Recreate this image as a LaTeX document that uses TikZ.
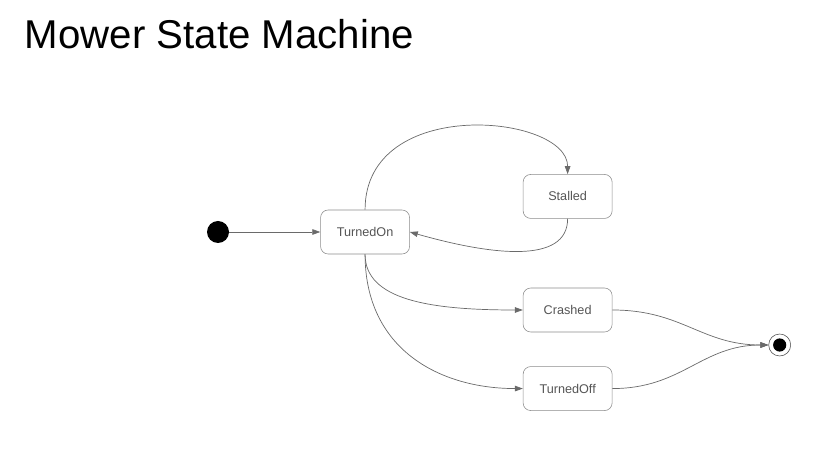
\documentclass[tikz,border=0pt]{standalone}
\usepackage{fontspec}
\setmainfont{Liberation Sans}
\usepackage{xcolor}
\usetikzlibrary{positioning, arrows.meta}
\definecolor{linegray}{HTML}{6A6A6A}
\definecolor{boxgray}{HTML}{8C8C8C}
\definecolor{textgray}{HTML}{555555}
\tikzstyle{state} = [rectangle, 
rounded corners=0.19cm, 
minimum width=2.225cm, 
minimum height=1.1cm, 
text centered, 
draw=boxgray, 
fill=white,
text=textgray,
font=\fontsize{9}{10}\selectfont]
\tikzstyle{startdot} = [circle, fill=black, minimum size=0.55cm, inner sep=0pt]
\tikzstyle{enddot} = [circle, draw=black!70, line width=0.4pt, fill=white, minimum size=0.55cm, inner sep=0pt]
\tikzstyle{arrow} = [linegray, line width=0.5pt, ->, >={Triangle[length=2mm, width=1.4mm]}]

\begin{document}
\begin{tikzpicture}
  \useasboundingbox (0,0) rectangle (20.325,-11.3);

  \node (title) [anchor=base west, font=\fontsize{28.6}{34}\selectfont] at (0.5,-1.22) {Mower State Machine};

  \node (start) [startdot] at (5.45,-5.8) {};
  \node (turnedon) [state, right=2.275cm of start] {TurnedOn};
  \node (crashed) [state, right=2.825cm of turnedon, yshift=-1.95cm] {Crashed};
  \node (stalled) [state, above=1.725cm of crashed] {Stalled};
  \node (turnedoff) [state, below=0.85cm of crashed] {TurnedOff};
  \node (stop) [enddot, right=3.9cm of crashed, yshift=-0.875cm] {};
  \fill [black] (stop.center) circle (0.165cm);

  \draw [arrow] (start) -- (turnedon);
  \draw [arrow] (turnedon.north) .. controls +(0,2.875) and +(0,1.5) .. (stalled.north);
  \draw [arrow] (stalled.south) .. controls +(0,-1.15) and +(2.025,-0.575) .. (turnedon.east);
  \draw [arrow] (turnedon.south) .. controls +(0,-1.15) and +(-2.3,0) .. (crashed.west);
  \draw [arrow] (turnedon.south) .. controls +(0,-2.4) and +(-2.05,0) .. (turnedoff.west);
  \draw [arrow] (crashed.east) .. controls +(1.75,0) and +(-1.675,0) .. (stop.west);
  \draw [arrow] (turnedoff.east) .. controls +(1.75,0) and +(-1.675,0) .. (stop.west);

\end{tikzpicture}
\end{document}
